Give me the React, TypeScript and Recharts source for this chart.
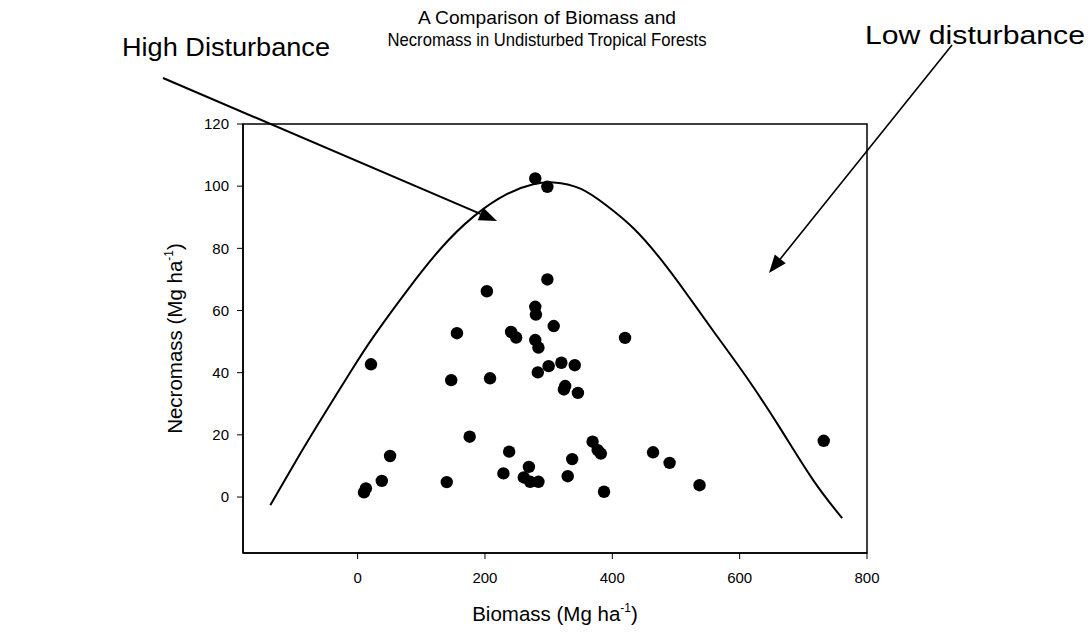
import { ComposedChart, Scatter, Line, XAxis, YAxis, ReferenceArea, Label } from 'recharts';

// field plots: biomass vs necromass (Mg/ha)
const biomass = [
  10, 13, 21, 38, 51, 140, 147, 156, 176, 203, 208, 229, 238, 241, 249, 261, 269, 271, 279, 279, 280, 279, 284,
  283, 284, 298, 298, 300, 308, 320, 326, 324, 330, 337, 341, 346, 369, 377, 382, 387, 420, 464, 490, 537, 732,
];
const necromass = [
  1.5, 2.8, 42.7, 5.2, 13.2, 4.8, 37.6, 52.7, 19.4, 66.2, 38.2, 7.6, 14.6, 53.1, 51.3, 6.3, 9.7, 4.9, 102.5, 61.2,
  58.7, 50.5, 48.1, 40.1, 4.9, 99.8, 70, 42.1, 55, 43.2, 35.7, 34.6, 6.7, 12.2, 42.4, 33.5, 17.8, 15.1, 14, 1.7,
  51.2, 14.4, 11, 3.8, 18.1,
];

// hand-drawn envelope curve
const curveBiomass = [-137, -90, -53, -11, 25, 78, 130, 182, 235, 276, 308, 350, 392, 434, 476, 518, 560, 612, 664, 716, 761];
const curveNecromass = [-2.6, 14, 26.5, 40.3, 51.6, 66.5, 79.8, 90.2, 97.5, 100.6, 101.2, 99.2, 93.6, 86.3, 76.5, 65, 53, 38.2, 22, 5.3, -6.8];

const xTicks = [0, 200, 400, 600, 800];
const yTicks = [0, 20, 40, 60, 80, 100, 120];

const plots = biomass.map((x, i) => ({ x, y: necromass[i] }));
const curve = curveBiomass.map((x, i) => ({ x, y: curveNecromass[i] }));

const FONT = "'Liberation Sans', Arial, Helvetica, sans-serif";

const Dot = (props: any) => <circle cx={props.cx} cy={props.cy} r={6.2} fill="#000" />;

const Arrow = ({ x1, y1, x2, y2, w = 2, len = 18, half = 7 }: any) => {
  const a = Math.atan2(y2 - y1, x2 - x1);
  const bx = x2 - len * Math.cos(a);
  const by = y2 - len * Math.sin(a);
  const px = -Math.sin(a) * half;
  const py = Math.cos(a) * half;
  return (
    <g>
      <line x1={x1} y1={y1} x2={bx} y2={by} stroke="#000" strokeWidth={w} />
      <polygon points={`${x2},${y2} ${bx + px},${by + py} ${bx - px},${by - py}`} fill="#000" />
    </g>
  );
};

const XTitle = (props: any) => {
  const { x, y, width } = props.viewBox;
  return (
    <text x={x + width / 2} y={y + 68} textAnchor="middle" fontSize={20.5} fontFamily={FONT} fill="#000">
      Biomass (Mg ha
      <tspan fontSize={12} dy={-9}>-1</tspan>
      <tspan dy={9}>)</tspan>
    </text>
  );
};

const YTitle = (props: any) => {
  const { x, y, height } = props.viewBox;
  const cx = x - 1;
  const cy = y + height / 2;
  return (
    <text
      x={cx}
      y={cy}
      transform={`rotate(-90, ${cx}, ${cy})`}
      textAnchor="middle"
      fontSize={20.5}
      fontFamily={FONT}
      fill="#000"
    >
      Necromass (Mg ha
      <tspan fontSize={12} dy={-9}>-1</tspan>
      <tspan dy={9}>)</tspan>
    </text>
  );
};

export default function App() {
  return (
    <div style={{ position: 'relative', width: 1076, height: 621 }}>
      <ComposedChart width={1076} height={621} margin={{ top: 116, right: 217, bottom: 36, left: 175 }}>
        <XAxis
          type="number"
          dataKey="x"
          domain={[-180, 800]}
          ticks={xTicks}
          allowDataOverflow
          height={40}
          tickSize={6}
          tickMargin={13}
          axisLine={{ stroke: '#000', strokeWidth: 1.5 }}
          tickLine={{ stroke: '#000' }}
          tick={{ fill: '#000', fontSize: 15, fontFamily: FONT }}
        >
          <Label content={<XTitle />} />
        </XAxis>
        <YAxis
          type="number"
          dataKey="y"
          domain={[-18, 120]}
          ticks={yTicks}
          allowDataOverflow
          width={60}
          tickSize={6}
          tickMargin={8}
          axisLine={{ stroke: '#000', strokeWidth: 1.5 }}
          tickLine={{ stroke: '#000' }}
          tick={{ fill: '#000', fontSize: 15, fontFamily: FONT }}
        >
          <Label content={<YTitle />} />
        </YAxis>
        <ReferenceArea x1={-180} x2={800} y1={-18} y2={120} fill="none" stroke="#000" strokeWidth={1.5} />
        <Line
          data={curve}
          dataKey="y"
          type="natural"
          stroke="#000"
          strokeWidth={2}
          dot={false}
          isAnimationActive={false}
        />
        <Scatter data={plots} dataKey="y" shape={<Dot />} isAnimationActive={false} />
      </ComposedChart>
      <svg
        width={1076}
        height={621}
        style={{ position: 'absolute', left: 0, top: 0, pointerEvents: 'none' }}
      >
        <g transform="translate(-8,-8)" fontFamily={FONT} fill="#000">
          <text x={547} y={24} textAnchor="middle" fontSize={19} textLength={258} lengthAdjust="spacingAndGlyphs">
            A Comparison of Biomass and
          </text>
          <text x={547} y={46} textAnchor="middle" fontSize={19} textLength={319} lengthAdjust="spacingAndGlyphs">
            Necromass in Undisturbed Tropical Forests
          </text>
          <text x={122} y={56} fontSize={25} textLength={208} lengthAdjust="spacingAndGlyphs">
            High Disturbance
          </text>
          <text x={865} y={44} fontSize={25} textLength={220} lengthAdjust="spacingAndGlyphs">
            Low disturbance
          </text>
          <Arrow x1={163} y1={78} x2={497} y2={221} w={2} />
          <Arrow x1={952} y1={45} x2={769} y2={273} w={1.6} />
        </g>
      </svg>
    </div>
  );
}
